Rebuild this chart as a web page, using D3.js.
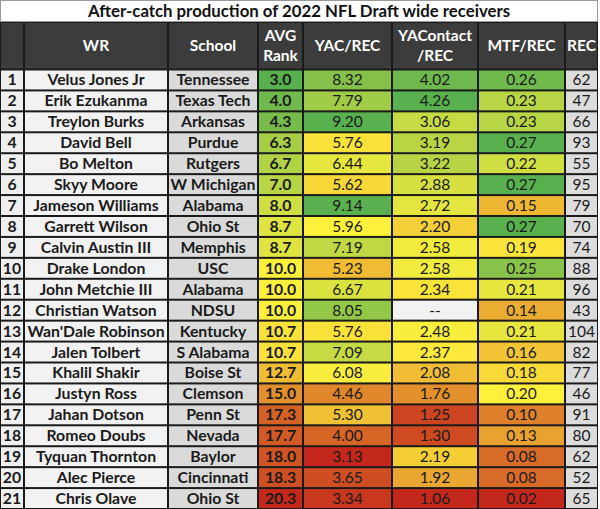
<!DOCTYPE html>
<html>
<head>
<meta charset="utf-8">
<script src="https://cdn.jsdelivr.net/npm/d3@7"></script>
<style>
  html, body { margin: 0; padding: 0; background: #ffffff; }
  svg { display: block; }
</style>
</head>
<body>
<script>
const title = "After-catch production of 2022 NFL Draft wide receivers";
const headers = [["",], ["WR"], ["School"], ["AVG", "Rank"], ["YAC/REC"], ["YAContact", "/REC"], ["MTF/REC"], ["REC"]];
const rowNums = [1,2,3,4,5,6,7,8,9,10,11,12,13,14,15,16,17,18,19,20,21];
const players = ["Velus Jones Jr","Erik Ezukanma","Treylon Burks","David Bell","Bo Melton","Skyy Moore","Jameson Williams","Garrett Wilson","Calvin Austin III","Drake London","John Metchie III","Christian Watson","Wan'Dale Robinson","Jalen Tolbert","Khalil Shakir","Justyn Ross","Jahan Dotson","Romeo Doubs","Tyquan Thornton","Alec Pierce","Chris Olave"];
const schools = ["Tennessee","Texas Tech","Arkansas","Purdue","Rutgers","W Michigan","Alabama","Ohio St","Memphis","USC","Alabama","NDSU","Kentucky","S Alabama","Boise St","Clemson","Penn St","Nevada","Baylor","Cincinnati","Ohio St"];
const avgRank = [3.0,4.0,4.3,6.3,6.7,7.0,8.0,8.7,8.7,10.0,10.0,10.0,10.7,10.7,12.7,15.0,17.3,17.7,18.0,18.3,20.3];
const yacRec = [8.32,7.79,9.20,5.76,6.44,5.62,9.14,5.96,7.19,5.23,6.67,8.05,5.76,7.09,6.08,4.46,5.30,4.00,3.13,3.65,3.34];
const yacontRec = [4.02,4.26,3.06,3.19,3.22,2.88,2.72,2.20,2.58,2.58,2.34,null,2.48,2.37,2.08,1.76,1.25,1.30,2.19,1.92,1.06];
const mtfRec = [0.26,0.23,0.23,0.27,0.22,0.27,0.15,0.27,0.19,0.25,0.21,0.14,0.21,0.16,0.18,0.20,0.10,0.13,0.08,0.08,0.02];
const recs = [62,47,66,93,55,95,79,70,74,88,96,43,104,82,77,46,91,80,62,52,65];

const W = 600, H = 509;
const colEdges = [0, 24, 168, 258, 303, 392, 478, 565, 598];
const titleH = 22, headTop = 22, headBot = 69.5;

const RED = "#c4281c", YEL = "#fff03c", GRN = "#58b04f";
function colorScale(vals, higherIsBetter) {
  const v = vals.filter(d => d != null);
  const dom = [d3.min(v), d3.median(v), d3.max(v)];
  return d3.scaleLinear().domain(dom)
    .range(higherIsBetter ? [RED, YEL, GRN] : [GRN, YEL, RED])
    .interpolate(d3.interpolateRgb).clamp(true);
}

const columns = [
  { vals: rowNums, fmt: d => d, bold: true, fill: () => "#efefef" },
  { vals: players, fmt: d => d, bold: true, fill: () => "#f2f2f2" },
  { vals: schools, fmt: d => d, bold: true, fill: () => "#dadada" },
  { vals: avgRank, fmt: d3.format(".1f"), bold: true, scale: colorScale(avgRank, false) },
  { vals: yacRec, fmt: d3.format(".2f"), bold: false, scale: colorScale(yacRec, true) },
  { vals: yacontRec, fmt: d => d == null ? "--" : d3.format(".2f")(d), bold: false, scale: colorScale(yacontRec, true) },
  { vals: mtfRec, fmt: d3.format(".2f"), bold: false, scale: colorScale(mtfRec, true) },
  { vals: recs, fmt: d => d, bold: false, fill: () => "#dcdcdc" }
];

const y = d3.scaleBand().domain(d3.range(rowNums.length)).range([headBot, H]).paddingInner(0);

const svg = d3.select("body").append("svg").attr("width", W).attr("height", H);
const font = "Lato, 'Open Sans', sans-serif";

// Title
svg.append("rect").attr("x", 0.5).attr("y", 0.5).attr("width", colEdges[8] - 1).attr("height", titleH - 1)
  .attr("fill", "#ffffff").attr("stroke", "#9a9a9a");
svg.append("text").attr("x", 299).attr("y", 16.5).attr("text-anchor", "middle")
  .attr("font-family", font).attr("font-weight", 700).attr("font-size", 16.8).attr("fill", "#111")
  .text(title);

// Table background (grid lines)
svg.append("rect").attr("x", 0).attr("y", headTop).attr("width", colEdges[8]).attr("height", H - headTop).attr("fill", "#1a1a1a");

// Header cells
const hg = svg.append("g");
headers.forEach((lines, i) => {
  const x0 = colEdges[i], x1 = colEdges[i + 1];
  hg.append("rect").attr("x", x0 + 1).attr("y", headTop + 1).attr("width", x1 - x0 - 2).attr("height", headBot - headTop - 2)
    .attr("fill", "#3c3c3c");
  const cx = (x0 + x1) / 2, cy = (headTop + headBot) / 2;
  const lh = 20;
  lines.forEach((ln, k) => {
    hg.append("text").attr("x", cx).attr("y", cy + (k - (lines.length - 1) / 2) * lh + 5.5)
      .attr("text-anchor", "middle").attr("font-family", font).attr("font-weight", 700)
      .attr("font-size", 15.5).attr("fill", "#ffffff").text(ln);
  });
});

// Body cells
const body = svg.append("g");
columns.forEach((col, ci) => {
  const x0 = colEdges[ci], x1 = colEdges[ci + 1];
  const g = body.append("g");
  const cells = g.selectAll("g").data(col.vals).join("g");
  cells.append("rect")
    .attr("x", x0 + 1).attr("y", (d, i) => y(i) + 1)
    .attr("width", x1 - x0 - 2).attr("height", y.bandwidth() - 2)
    .attr("fill", d => col.scale ? (d == null ? "#f2f2f2" : col.scale(d)) : col.fill(d));
  cells.append("text")
    .attr("x", (x0 + x1) / 2).attr("y", (d, i) => y(i) + y.bandwidth() / 2 + 5.5)
    .attr("text-anchor", "middle").attr("font-family", font)
    .attr("font-weight", col.bold ? 700 : 400).attr("font-size", col.bold ? 15.8 : 15.5).attr("fill", "#1a1a1a")
    .text(d => col.fmt(d));
});
</script>
</body>
</html>
